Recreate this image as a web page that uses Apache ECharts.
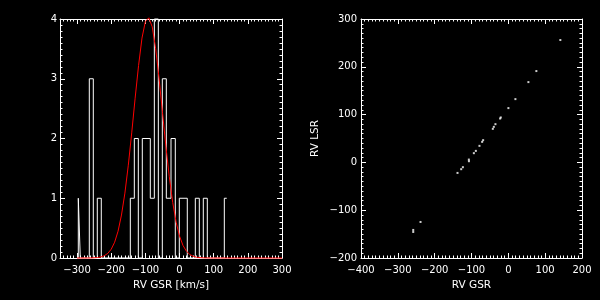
<!DOCTYPE html>
<html><head><meta charset="utf-8">
<script src="https://cdn.jsdelivr.net/npm/echarts@6/dist/echarts.min.js"></script>
<style>html,body{margin:0;padding:0;background:#000;}#c{width:600px;height:300px;}</style>
</head><body><div id="c"></div>
<script>
// Histogram of RV GSR (step outline): bin edges and counts between them
const histEdges = [-296.4, -290.6, -264.2, -252.5, -240.8, -229.1, -144.1, -132.4, -120.7, -109.0, -85.6, -73.8, -62.1, -50.4, -38.7, -25.0, -12.4, -0.7, 22.7, 46.2, 57.9, 69.6, 81.3, 131.1, 138.1];
const histCounts = [1, 0, 3, 0, 1, 0, 1, 2, 0, 2, 1, 4, 0, 3, 1, 2, 0, 1, 0, 1, 0, 1, 0, 1];
// Red fitted curve
const fitX = [-300,-290,-280,-270,-260,-250,-240,-230,-220,-210,-200,-190,-180,-170,-160,-150,-140,-130,-120,-110,-100,-90,-80,-70,-60,-50,-40,-30,-20,-10,0,10,20,30,40,50,60,70,80,90,100,110,120,130,140,150,160,170,180,190,200,210,220,230,240,250,260,270,280,290,300];
const fitY = [0,0,0.0002,0.0005,0.0013,0.0034,0.008,0.018,0.039,0.078,0.147,0.264,0.449,0.719,1.086,1.553,2.095,2.675,3.22,3.68,3.96,4.02,3.87,3.51,3.01,2.44,1.87,1.36,0.93,0.60,0.366,0.211,0.115,0.059,0.029,0.013,0.006,0.002,0.001,0,0,0,0,0,0,0,0,0,0,0,0,0,0,0,0,0,0,0,0,0,0];
// Scatter: RV GSR vs RV LSR
const rvGSR = [141.2, 76.1, 54.5, 19.2, 0.2, -22.3, -20.5, -35.0, -39.4, -42.1, -68.4, -71.1, -78.4, -88.2, -93.6, -107.2, -107.0, -123.4, -128.0, -138.0, -238.4, -258.2, -258.2];
const rvLSR = [256.0, 191.1, 168.0, 132.4, 113.6, 91.8, 94.0, 80.0, 74.4, 70.2, 46.5, 43.0, 34.6, 24.1, 19.3, 5.9, 2.5, -10.0, -14.2, -22.0, -124.6, -141.3, -145.5];
// Tick labels
const histXTicks = [-300, -200, -100, 0, 100, 200, 300];
const histYTicks = [0, 1, 2, 3, 4];
const scatXTicks = [-400, -300, -200, -100, 0, 100, 200];
const scatYTicks = [-200, -100, 0, 100, 200, 300];

const FONT = 'DejaVu Sans';
const fmt = v => (v < 0 ? '\u2212' + Math.abs(v) : String(v));

function minorVals(min, max, step) {
  const out = [];
  for (let v = min; v <= max + 1e-9; v += step) out.push(Math.round(v * 1000) / 1000);
  return out;
}

function axisPair(gridIndex, pos, min, max, majors, minorStep, opts) {
  opts = opts || {};
  const major = {
    type: 'value', gridIndex: gridIndex, position: pos, min: min, max: max,
    axisLine: { show: true, onZero: false, lineStyle: { color: '#fff', width: 1 } },
    axisTick: { show: true, inside: true, length: 5, customValues: majors, lineStyle: { color: '#fff', width: 1 } },
    axisLabel: { show: !!opts.labels, customValues: majors, color: '#fff', fontFamily: FONT, fontSize: 10, margin: opts.margin || 6, formatter: fmt },
    splitLine: { show: false }
  };
  if (opts.name) {
    major.name = opts.name;
    major.nameLocation = 'middle';
    major.nameGap = opts.nameGap;
    major.nameTextStyle = { color: '#fff', fontFamily: FONT, fontSize: 10.5 };
  }
  const minor = {
    type: 'value', gridIndex: gridIndex, position: pos, min: min, max: max,
    axisLine: { show: false, onZero: false },
    axisTick: { show: true, inside: true, length: 2.5, customValues: minorVals(min, max, minorStep), lineStyle: { color: '#fff', width: 1 } },
    axisLabel: { show: false },
    splitLine: { show: false }
  };
  return [major, minor];
}

const histPts = [[histEdges[0], 0]];
for (let i = 0; i < histCounts.length; i++) {
  histPts.push([histEdges[i], histCounts[i]]);
  histPts.push([histEdges[i + 1], histCounts[i]]);
}

const xAxes = [].concat(
  axisPair(0, 'bottom', -350, 300, histXTicks, 10, { labels: true, margin: 7, name: 'RV GSR [km/s]', nameGap: 19 }),
  axisPair(0, 'top', -350, 300, histXTicks, 10),
  axisPair(1, 'bottom', -400, 200, scatXTicks, 10, { labels: true, margin: 7, name: 'RV GSR', nameGap: 19 }),
  axisPair(1, 'top', -400, 200, scatXTicks, 10)
);
const yAxes = [].concat(
  axisPair(0, 'left', 0, 4, histYTicks, 0.1, { labels: true, margin: 3 }),
  axisPair(0, 'right', 0, 4, histYTicks, 0.1),
  axisPair(1, 'left', -200, 300, scatYTicks, 10, { labels: true, margin: 4, name: 'RV LSR', nameGap: 40 }),
  axisPair(1, 'right', -200, 300, scatYTicks, 10)
);

const chart = echarts.init(document.getElementById('c'), null, { renderer: 'canvas' });
chart.setOption({
  backgroundColor: '#000',
  animation: false,
  grid: [
    { left: 60, top: 19, width: 222, height: 239, containLabel: false },
    { left: 361, top: 19, width: 221, height: 239, containLabel: false }
  ],
  xAxis: xAxes,
  yAxis: yAxes,
  series: [
    { type: 'line', xAxisIndex: 0, yAxisIndex: 0, data: histPts, showSymbol: false, clip: false,
      lineStyle: { color: '#fff', width: 1 }, z: 3 },
    { type: 'line', xAxisIndex: 0, yAxisIndex: 0, data: fitX.map((x, i) => [x, fitY[i]]), showSymbol: false, clip: false,
      lineStyle: { color: '#ff0000', width: 1 }, z: 4 },
    { type: 'scatter', xAxisIndex: 4, yAxisIndex: 4, data: rvGSR.map((x, i) => [x, rvLSR[i]]),
      symbol: 'rect', symbolSize: 2, itemStyle: { color: '#fff' }, z: 3 }
  ]
});
</script>
</body></html>
